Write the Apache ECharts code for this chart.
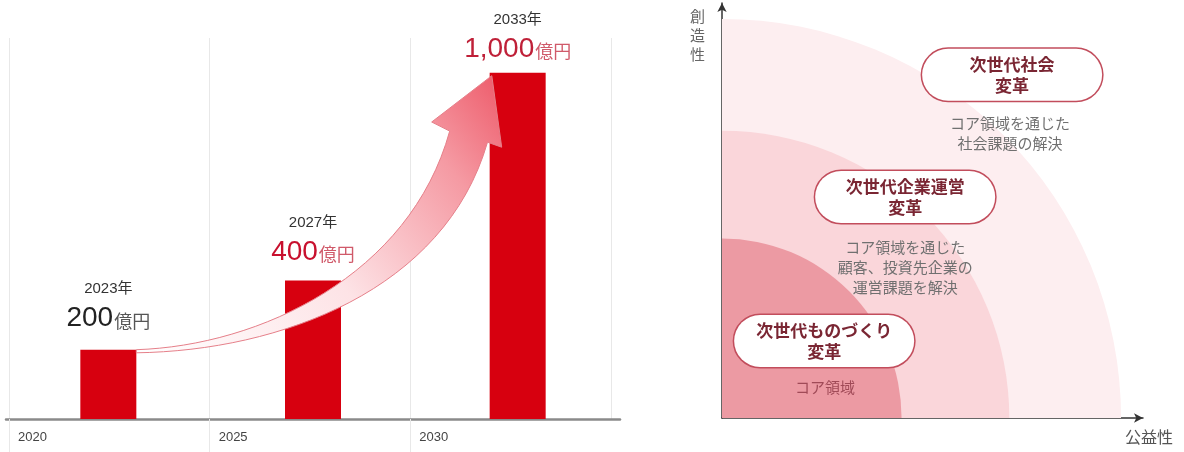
<!DOCTYPE html>
<html><head><meta charset="utf-8">
<script src="https://cdn.jsdelivr.net/npm/echarts@6/dist/echarts.min.js"></script>
<style>html,body{margin:0;padding:0;background:#fff}#c{width:1184px;height:452px}</style>
</head><body><div id="c"></div>
<script>
// ---- data ----
const yearTicks = [2020, 2025, 2030, 2035];
const barCategories = ['2023年', '2027年', '2033年'];
const barValues = [200, 400, 1000];
const valueTexts = ['200', '400', '1,000'];
const ringRadii = [100, 72, 45];
const pillTexts = ['次世代社会\n変革', '次世代企業運営\n変革', '次世代ものづくり\n変革'];
const pillPoints = [[72.7, 86], [45.9, 55.4], [25.6, 19.3]];
const noteTexts = ['コア領域を通じた\n社会課題の解決', 'コア領域を通じた\n顧客、投資先企業の\n運営課題を解決', 'コア領域'];
const notePoints = [[72.2, 71.4], [45.9, 37.8], [25.8, 7.8]];
const xAxisName = '公益性';
const yAxisName = '創造性';

// ---- styles ----
const barColor = '#d7000f';
const valueColors = ['#222222', '#c8102e', '#bf2038'];
const unitColors = ['#555555', '#d05a6a', '#d05a6a'];
const labelGaps = [15, 12, 7];
const ringColors = ['#fdeef0', '#fad6da', '#ec9aa3'];
const noteColors = ['#707070', '#707070', '#a04a57'];
const JP = '"Noto Sans CJK JP", "Noto Sans", sans-serif';
const NUM = '"Liberation Sans", Arial, "Noto Sans CJK JP", sans-serif';

const chart = echarts.init(document.getElementById('c'), null, {renderer: 'canvas'});

const rich = {y: {fontSize: 15, color: '#333', fontFamily: NUM, lineHeight: 28}};
valueTexts.forEach((t, i) => {
  rich['v' + i] = {fontSize: 28, color: valueColors[i], fontFamily: NUM, lineHeight: 32};
  rich['u' + i] = {fontSize: 18, color: unitColors[i], fontFamily: JP, lineHeight: 32, padding: [4, 0, 0, 1]};
});

const BAR_W = 56;
function arrowItem(params, api) {
  const s0 = api.coord([0, barValues[0]]);
  const t0 = api.coord([barValues.length - 1, barValues[barValues.length - 1]]);
  const S = [s0[0] + BAR_W / 2, s0[1]];
  const T = [t0[0] - BAR_W / 2, t0[1]];
  const P = (u, v) => (S[0] + u * (T[0] - S[0])).toFixed(1) + ' ' + (S[1] + v * (T[1] - S[1])).toFixed(1);
  const d = 'M ' + P(0, 0) +
    ' C ' + P(0.350, 0.0145) + ' ' + P(0.774, 0.269) + ' ' + P(0.887, 0.789) +
    ' L ' + P(0.836, 0.822) + ' L ' + P(1.006, 0.989) + ' L ' + P(1.034, 0.731) + ' L ' + P(0.994, 0.749) +
    ' C ' + P(0.873, 0.215) + ' ' + P(0.407, -0.004) + ' ' + P(0, -0.011) + ' Z';
  return {type: 'path', shape: {pathData: d},
    style: {fill: new echarts.graphic.LinearGradient(S[0], S[1], T[0], T[1], [
      {offset: 0, color: '#ffffff'}, {offset: 0.45, color: '#fde3e6'}, {offset: 0.8, color: '#f59aa3'}, {offset: 1, color: '#ee5f6e'}], true),
      stroke: '#e57f89', lineWidth: 1}};
}

const option = {
  animation: false,
  grid: [
    {left: 9, right: 573, top: 38, bottom: 33},
    {left: 6, right: 564, top: 38, bottom: 33},
    {left: 722, right: 41, top: 3, bottom: 34}
  ],
  xAxis: [
    {type: 'value', gridIndex: 0, min: yearTicks[0], max: yearTicks[yearTicks.length - 1], interval: 5,
      axisLine: {show: false},
      axisTick: {show: true, length: 33, lineStyle: {color: '#e8e8e8', width: 1}},
      splitLine: {show: true, lineStyle: {color: '#e8e8e8', width: 1}},
      axisLabel: {show: true, showMaxLabel: false, align: 'left', margin: 12, padding: [0, 0, 0, 9],
        color: '#444', fontSize: 13, fontFamily: NUM, formatter: v => String(v)}},
    {type: 'category', gridIndex: 1, data: barCategories, boundaryGap: true,
      axisLine: {show: true, lineStyle: {color: '#8a8a8a', width: 2.5}},
      axisTick: {show: false}, axisLabel: {show: false}, splitLine: {show: false}},
    {type: 'value', gridIndex: 2, min: 0, max: 105.5,
      axisLine: {show: true, symbol: ['none', 'arrow'], symbolSize: [7, 9], lineStyle: {color: '#333', width: 1.5}},
      axisTick: {show: false}, axisLabel: {show: false}, splitLine: {show: false}}
  ],
  yAxis: [
    {type: 'value', gridIndex: 0, min: 0, max: 1100, show: false},
    {type: 'value', gridIndex: 1, min: 0, max: 1100, show: false},
    {type: 'value', gridIndex: 2, min: 0, max: 104,
      axisLine: {show: true, symbol: ['none', 'arrow'], symbolSize: [7, 9], lineStyle: {color: '#333', width: 1.5}},
      axisTick: {show: false}, axisLabel: {show: false}, splitLine: {show: false}}
  ],
  graphic: [
    {type: 'text', left: 690, top: 7, z: 50, silent: true,
      style: {text: yAxisName.split('').join('\n'), fontSize: 15, lineHeight: 19, fill: '#666', fontFamily: JP}},
    {type: 'text', left: 1125, top: 429, z: 50, silent: true,
      style: {text: xAxisName, fontSize: 16, fill: '#555', fontFamily: JP}}
  ],
  series: [
    {type: 'bar', xAxisIndex: 1, yAxisIndex: 1, barWidth: BAR_W, z: 3,
      itemStyle: {color: barColor},
      data: barValues.map((v, i) => ({value: v, label: {distance: labelGaps[i]}})),
      label: {show: true, position: 'top', align: 'center', rich: rich,
        formatter: p => '{y|' + barCategories[p.dataIndex] + '}\n{v' + p.dataIndex + '|' + valueTexts[p.dataIndex] + '}{u' + p.dataIndex + '|億円}'}},
    {type: 'custom', xAxisIndex: 1, yAxisIndex: 1, silent: true, z: 10, clip: false,
      data: [[0, 0]], renderItem: arrowItem},
    {type: 'custom', xAxisIndex: 2, yAxisIndex: 2, silent: true, z: 1,
      data: ringRadii.map(r => [r, 0]),
      renderItem: (params, api) => {
        const c = api.coord([0, 0]);
        const r = api.size([api.value(0), 0])[0];
        return {type: 'sector',
          shape: {cx: c[0], cy: c[1], r0: 0, r: r, startAngle: -Math.PI / 2, endAngle: 0, clockwise: true},
          style: {fill: ringColors[params.dataIndex]}};
      }},
    {type: 'scatter', xAxisIndex: 2, yAxisIndex: 2, symbolSize: 1, silent: true, z: 5,
      itemStyle: {color: 'rgba(0,0,0,0)', opacity: 1},
      data: pillPoints.map((p, i) => ({value: p, name: pillTexts[i]})),
      label: {show: true, position: 'inside', formatter: '{b}', align: 'center', verticalAlign: 'middle',
        width: 160, padding: [5, 10], lineHeight: 21, fontSize: 17, fontWeight: 'bold', fontFamily: JP,
        color: '#7a2633', backgroundColor: '#ffffff', borderColor: '#c24d5c', borderWidth: 1.5, borderRadius: 27}},
    {type: 'scatter', xAxisIndex: 2, yAxisIndex: 2, symbolSize: 1, silent: true, z: 5,
      itemStyle: {color: 'rgba(0,0,0,0)', opacity: 1},
      data: notePoints.map((p, i) => ({value: p, name: noteTexts[i], label: {color: noteColors[i]}})),
      label: {show: true, position: 'inside', formatter: '{b}', align: 'center', verticalAlign: 'middle',
        lineHeight: 20, fontSize: 15, fontFamily: JP, color: '#707070'}}
  ]
};
chart.setOption(option);
</script>
</body></html>
